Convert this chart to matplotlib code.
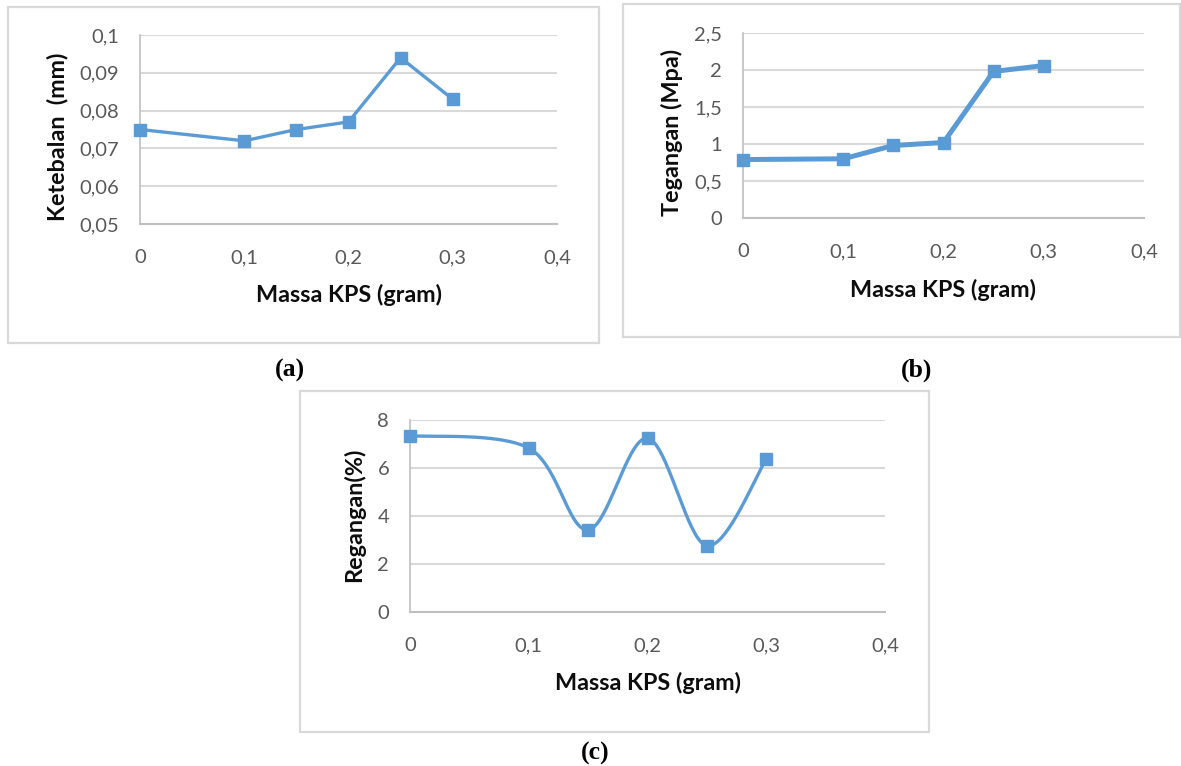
import numpy as np
import matplotlib
matplotlib.use('Agg')
import matplotlib.pyplot as plt
from matplotlib.patches import Rectangle

# data
massa = [0, 0.1, 0.15, 0.2, 0.25, 0.3]
ketebalan = [0.075, 0.072, 0.075, 0.077, 0.094, 0.083]
tegangan = [0.79, 0.80, 0.98, 1.02, 1.98, 2.06]
regangan = [7.35, 6.83, 3.42, 7.24, 2.76, 6.36]

x_ticks = [0, 0.1, 0.2, 0.3, 0.4]
x_ticklabels = ['0', '0,1', '0,2', '0,3', '0,4']
a_yticks = [0.05, 0.06, 0.07, 0.08, 0.09, 0.1]
a_yticklabels = ['0,05', '0,06', '0,07', '0,08', '0,09', '0,1']
b_yticks = [0, 0.5, 1, 1.5, 2, 2.5]
b_yticklabels = ['0', '0,5', '1', '1,5', '2', '2,5']
c_yticks = [0, 2, 4, 6, 8]
c_yticklabels = ['0', '2', '4', '6', '8']

BLUE = '#5B9BD5'
GRID = '#D9D9D9'
W, H = 1181, 766

plt.rcParams['font.family'] = ['Lato', 'DejaVu Sans']

fig = plt.figure(figsize=(W / 100, H / 100), dpi=100)


def px_rect(x0, y0, x1, y1):
    # pixel box (top-left origin) -> figure fraction [l, b, w, h]
    return [x0 / W, 1 - y1 / H, (x1 - x0) / W, (y1 - y0) / H]


def frame(x0, y0, x1, y1):
    l, b, w, h = px_rect(x0, y0, x1, y1)
    fig.patches.append(Rectangle((l, b), w, h, transform=fig.transFigure,
                                 fill=False, edgecolor=GRID, linewidth=1.6))


def smooth(xs, ys, sx, sy, n=40):
    # excel-like smoothed line (bezier through the points)
    P = np.column_stack([np.asarray(xs) * sx, np.asarray(ys) * sy])
    P = np.vstack([P[0], P, P[-1]])
    t = np.linspace(0, 1, n)[:, None]
    out = []
    for i in range(1, len(P) - 2):
        p0, p1, p2, p3 = P[i - 1], P[i], P[i + 1], P[i + 2]
        c1 = p1 + (p2 - p0) / 6
        c2 = p2 - (p3 - p1) / 6
        out.append((1 - t)**3 * p1 + 3 * (1 - t)**2 * t * c1
                   + 3 * (1 - t) * t**2 * c2 + t**3 * p2)
    out = np.vstack(out)
    return out[:, 0] / sx, out[:, 1] / sy


def setup(ax, yticks, ylabels, xlabel, ylabel, xl_pos, yl_pos, box):
    ax.set_xlim(0, 0.4)
    ax.set_ylim(yticks[0], yticks[-1])
    ax.set_xticks(x_ticks)
    ax.set_xticklabels(x_ticklabels)
    ax.set_yticks(yticks)
    ax.set_yticklabels(ylabels)
    ax.tick_params(length=0, labelsize=14.5, labelcolor='#595959')
    ax.tick_params(axis='x', pad=18)
    ax.tick_params(axis='y', pad=15)
    ax.grid(axis='y', color=GRID, linewidth=1.5)
    ax.set_axisbelow(True)
    for s in ['top', 'right']:
        ax.spines[s].set_visible(False)
    ax.spines['left'].set_color('#BFBFBF')
    ax.spines['bottom'].set_color('#BFBFBF')
    ax.spines['left'].set_linewidth(1.2)
    ax.spines['bottom'].set_linewidth(1.5)
    fig.text(xl_pos[0] / W, 1 - xl_pos[1] / H, xlabel, ha='center', va='center',
             fontsize=16.8, fontweight='bold', color='#0D0D0D')
    fig.text(yl_pos[0] / W, 1 - yl_pos[1] / H, ylabel, ha='center', va='center',
             rotation=90, fontsize=16.8, fontweight='bold', color='#0D0D0D')
    frame(*box)


# (a) Ketebalan
ax1 = fig.add_axes(px_rect(140, 35, 557, 224))
ax1.plot(massa, ketebalan, color=BLUE, linewidth=2.4, marker='s',
         markersize=8.5, clip_on=False, zorder=3)
setup(ax1, a_yticks, a_yticklabels, 'Massa KPS (gram)', 'Ketebalan  (mm)',
      (349, 295), (58, 137), (8, 7, 599, 343))

# (b) Tegangan
ax2 = fig.add_axes(px_rect(743, 33, 1144, 218))
ax2.plot(massa, tegangan, color=BLUE, linewidth=3.6, marker='s',
         markersize=8.5, clip_on=False, zorder=3)
setup(ax2, b_yticks, b_yticklabels, 'Massa KPS (gram)', 'Tegangan (Mpa)',
      (943, 290), (672, 132), (623, 4, 1180, 337))

# (c) Regangan, smoothed line
ax3 = fig.add_axes(px_rect(410, 420, 885, 612))
sxv, syv = smooth(massa, regangan, 475 / 0.4, 192 / 8)
ax3.plot(sxv, syv, color=BLUE, linewidth=2.4, clip_on=False, zorder=3)
ax3.plot(massa, regangan, linestyle='none', marker='s', color=BLUE,
         markersize=8.5, clip_on=False, zorder=4)
setup(ax3, c_yticks, c_yticklabels, 'Massa KPS (gram)', 'Regangan(%)',
      (648, 683), (354, 515), (300, 391, 929, 732))

# captions
for lab, (cx, cy) in [('(a)', (290, 370)), ('(b)', (917, 370)), ('(c)', (595, 753))]:
    fig.text(cx / W, 1 - cy / H, lab, ha='center', va='center', fontsize=18.5,
             fontweight='bold', family='Liberation Serif')

fig.savefig('out.png', dpi=100)
